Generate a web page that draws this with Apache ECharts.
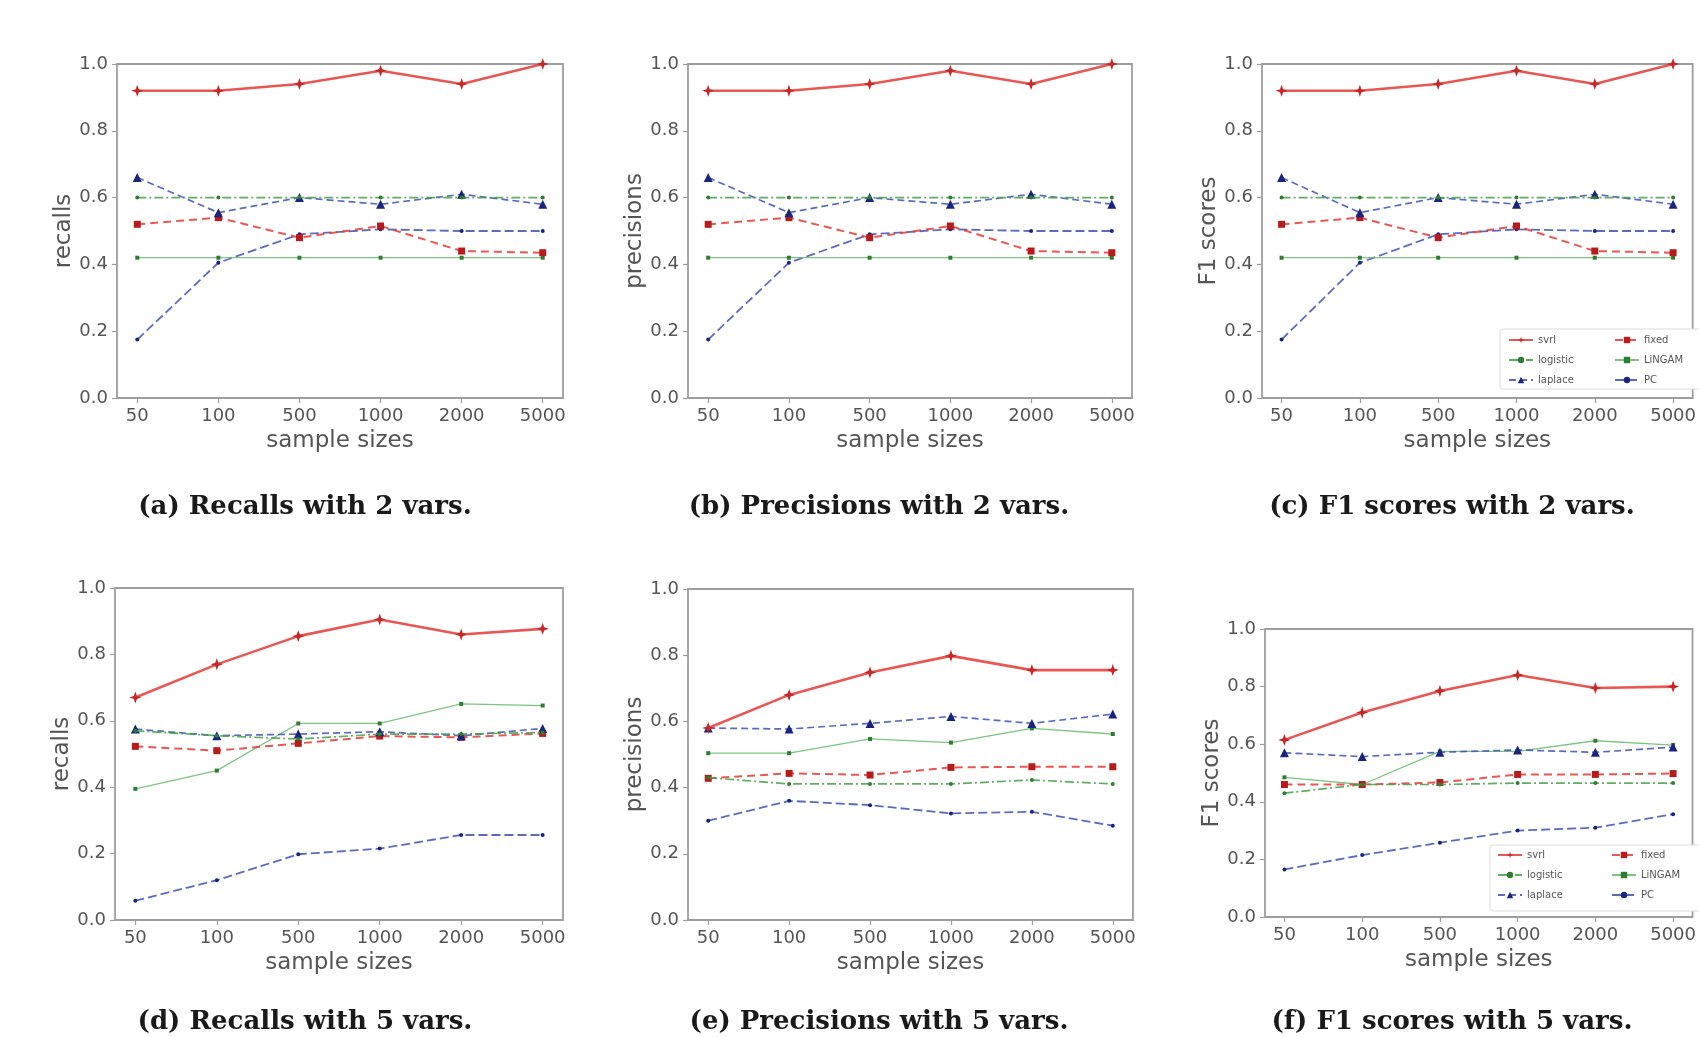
<!DOCTYPE html>
<html><head><meta charset="utf-8">
<script src="https://cdn.jsdelivr.net/npm/echarts@6/dist/echarts.min.js"></script>
<style>html,body{margin:0;padding:0;background:#fff}#c{width:1699px;height:1037px}</style>
</head><body><div id="c"></div>
<script>
// ---- data ----
const sizes = ['50', '100', '500', '1000', '2000', '5000'];
const methods = ['svrl', 'logistic', 'laplace', 'fixed', 'LiNGAM', 'PC'];
const yTicks = [0, 0.2, 0.4, 0.6, 0.8, 1.0];

// (a) recalls, 2 vars
const a_svrl     = [0.92, 0.92, 0.94, 0.98, 0.94, 1.00];
const a_logistic = [0.60, 0.60, 0.60, 0.60, 0.60, 0.60];
const a_laplace  = [0.66, 0.555, 0.60, 0.58, 0.61, 0.58];
const a_fixed    = [0.52, 0.54, 0.48, 0.515, 0.44, 0.435];
const a_lingam   = [0.42, 0.42, 0.42, 0.42, 0.42, 0.42];
const a_pc       = [0.175, 0.405, 0.49, 0.505, 0.50, 0.50];
// (b) precisions, 2 vars
const b_svrl     = [0.92, 0.92, 0.94, 0.98, 0.94, 1.00];
const b_logistic = [0.60, 0.60, 0.60, 0.60, 0.60, 0.60];
const b_laplace  = [0.66, 0.555, 0.60, 0.58, 0.61, 0.58];
const b_fixed    = [0.52, 0.54, 0.48, 0.515, 0.44, 0.435];
const b_lingam   = [0.42, 0.42, 0.42, 0.42, 0.42, 0.42];
const b_pc       = [0.175, 0.405, 0.49, 0.505, 0.50, 0.50];
// (c) F1 scores, 2 vars
const c_svrl     = [0.92, 0.92, 0.94, 0.98, 0.94, 1.00];
const c_logistic = [0.60, 0.60, 0.60, 0.60, 0.60, 0.60];
const c_laplace  = [0.66, 0.555, 0.60, 0.58, 0.61, 0.58];
const c_fixed    = [0.52, 0.54, 0.48, 0.515, 0.44, 0.435];
const c_lingam   = [0.42, 0.42, 0.42, 0.42, 0.42, 0.42];
const c_pc       = [0.175, 0.405, 0.49, 0.505, 0.50, 0.50];
// (d) recalls, 5 vars
const d_svrl     = [0.67, 0.77, 0.855, 0.905, 0.86, 0.877];
const d_logistic = [0.57, 0.555, 0.545, 0.56, 0.56, 0.565];
const d_laplace  = [0.575, 0.555, 0.56, 0.567, 0.555, 0.577];
const d_fixed    = [0.523, 0.51, 0.532, 0.554, 0.55, 0.562];
const d_lingam   = [0.395, 0.45, 0.592, 0.592, 0.651, 0.646];
const d_pc       = [0.058, 0.12, 0.198, 0.215, 0.256, 0.256];
// (e) precisions, 5 vars
const e_svrl     = [0.58, 0.68, 0.748, 0.798, 0.755, 0.755];
const e_logistic = [0.43, 0.411, 0.411, 0.411, 0.423, 0.411];
const e_laplace  = [0.58, 0.577, 0.594, 0.615, 0.594, 0.622];
const e_fixed    = [0.428, 0.443, 0.438, 0.461, 0.463, 0.463];
const e_lingam   = [0.504, 0.504, 0.547, 0.536, 0.579, 0.562];
const e_pc       = [0.30, 0.36, 0.347, 0.322, 0.327, 0.285];
// (f) F1 scores, 5 vars
const f_svrl     = [0.615, 0.71, 0.785, 0.84, 0.795, 0.80];
const f_logistic = [0.43, 0.46, 0.46, 0.465, 0.465, 0.465];
const f_laplace  = [0.57, 0.557, 0.572, 0.58, 0.572, 0.59];
const f_fixed    = [0.46, 0.46, 0.467, 0.495, 0.495, 0.498];
const f_lingam   = [0.485, 0.46, 0.575, 0.575, 0.612, 0.597];
const f_pc       = [0.165, 0.215, 0.258, 0.30, 0.31, 0.357];

const panelData = [
  [a_svrl, a_logistic, a_laplace, a_fixed, a_lingam, a_pc],
  [b_svrl, b_logistic, b_laplace, b_fixed, b_lingam, b_pc],
  [c_svrl, c_logistic, c_laplace, c_fixed, c_lingam, c_pc],
  [d_svrl, d_logistic, d_laplace, d_fixed, d_lingam, d_pc],
  [e_svrl, e_logistic, e_laplace, e_fixed, e_lingam, e_pc],
  [f_svrl, f_logistic, f_laplace, f_fixed, f_lingam, f_pc]
];
const yNames = ['recalls', 'precisions', 'F1 scores', 'recalls', 'precisions', 'F1 scores'];
const captions = ['(a) Recalls with 2 vars.', '(b) Precisions with 2 vars.', '(c) F1 scores with 2 vars.',
                  '(d) Recalls with 5 vars.', '(e) Precisions with 5 vars.', '(f) F1 scores with 5 vars.'];

// ---- layout / style ----
const grids = [
  {left: 117, top: 64, width: 446, height: 334},
  {left: 688, top: 64, width: 444, height: 334},
  {left: 1262, top: 64, width: 446, height: 334},
  {left: 115, top: 588, width: 448, height: 332},
  {left: 688, top: 589, width: 445, height: 331},
  {left: 1265, top: 629, width: 443, height: 288}
];
const captionPos = [[305, 507], [879, 507], [1452, 507], [305, 1022], [879, 1022], [1452, 1022]];

const star = 'path://M5,0L6.3,3.7L10,5L6.3,6.3L5,10L3.7,6.3L0,5L3.7,3.7Z';
const styles = [
  {color: '#e53935', mcolor: '#c62828', type: 'solid', width: 2.6, symbol: star, size: 12},
  {color: '#43a047', mcolor: '#2e7d32', type: [9, 3, 2, 3], width: 1.7, symbol: 'circle', size: 4},
  {color: '#3f51b5', mcolor: '#1a237e', type: [7, 4], width: 1.7, symbol: 'triangle', size: 9},
  {color: '#e53935', mcolor: '#b71c1c', type: [8, 5], width: 2, symbol: 'rect', size: 7},
  {color: '#66bb6a', mcolor: '#2e7d32', type: 'solid', width: 1.3, symbol: 'rect', size: 4},
  {color: '#3f51b5', mcolor: '#1a237e', type: [9, 4], width: 1.8, symbol: 'circle', size: 4}
];

const axisGray = '#9e9e9e';
const textGray = '#555';
const tickFont = 'DejaVu Sans';

const option = {
  animation: false,
  backgroundColor: '#fff',
  grid: grids.map(g => Object.assign({show: true, borderColor: axisGray, borderWidth: 1.8, backgroundColor: '#fff'}, g)),
  xAxis: grids.map((g, i) => ({
    gridIndex: i, type: 'value', min: -0.25, max: 5.25,
    axisLine: {show: false, onZero: false},
    axisTick: {show: true, length: 5, lineStyle: {color: axisGray, width: 1.2}, customValues: [0, 1, 2, 3, 4, 5]},
    axisLabel: {customValues: [0, 1, 2, 3, 4, 5], formatter: v => sizes[Math.round(v)],
      color: textGray, fontSize: 18, fontFamily: tickFont, margin: 9},
    splitLine: {show: false},
    name: 'sample sizes', nameLocation: 'middle', nameGap: 32,
    nameTextStyle: {color: textGray, fontSize: 23, fontFamily: tickFont}
  })),
  yAxis: grids.map((g, i) => ({
    gridIndex: i, type: 'value', min: 0, max: 1, interval: 0.2,
    axisLine: {show: false, onZero: false},
    axisTick: {show: true, length: 5, lineStyle: {color: axisGray, width: 1.2}},
    axisLabel: {formatter: v => v.toFixed(1), color: textGray, fontSize: 18, fontFamily: tickFont, margin: 9},
    splitLine: {show: false},
    name: yNames[i], nameLocation: 'middle', nameGap: 38,
    nameTextStyle: {color: textGray, fontSize: 23, fontFamily: tickFont}
  })),
  legend: [
    {left: 1508, top: 335, orient: 'vertical', data: methods.slice(0, 3)},
    {left: 1614, top: 335, orient: 'vertical', data: methods.slice(3)},
    {left: 1497, top: 850, orient: 'vertical', data: methods.slice(0, 3)},
    {left: 1611, top: 850, orient: 'vertical', data: methods.slice(3)}
  ].map(l => Object.assign({itemWidth: 24, itemHeight: 8, itemGap: 10, padding: 0, z: 20,
    textStyle: {fontSize: 10, color: textGray, fontFamily: tickFont}}, l)),
  graphic: [],
  series: []
};

panelData.forEach((arrs, pi) => {
  arrs.forEach((vals, mi) => {
    const s = styles[mi];
    option.series.push({
      type: 'line', name: methods[mi], xAxisIndex: pi, yAxisIndex: pi,
      data: vals.map((v, k) => [k, v]),
      symbol: s.symbol, symbolSize: s.size, showSymbol: true,
      lineStyle: {color: s.color, type: s.type, width: s.width, opacity: 0.85},
      itemStyle: {color: s.mcolor},
      z: 10 - mi
    });
  });
});

captions.forEach((t, i) => {
  option.graphic.push({
    type: 'text', x: captionPos[i][0], y: captionPos[i][1], z: 100,
    style: {text: t, font: 'bold 26px "DejaVu Serif"', fill: '#1a1a1a', textAlign: 'center', textVerticalAlign: 'middle'}
  });
});
// legend frames (behind legend)
option.graphic.push({type: 'rect', shape: {x: 1500, y: 329, width: 215, height: 60, r: 3},
  style: {fill: '#fff', stroke: '#dddddd', lineWidth: 1}, z: 1});
option.graphic.push({type: 'rect', shape: {x: 1490, y: 845, width: 225, height: 66, r: 3},
  style: {fill: '#fff', stroke: '#dddddd', lineWidth: 1}, z: 1});

const chart = echarts.init(document.getElementById('c'), null, {renderer: 'canvas'});
chart.setOption(option);
</script>
</body></html>
